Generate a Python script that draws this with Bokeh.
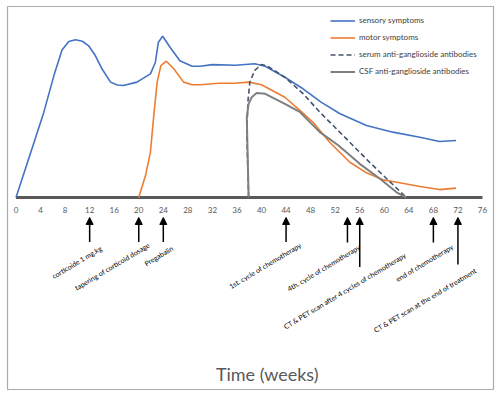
from bokeh.plotting import figure
from bokeh.models import Range1d, Arrow, NormalHead, ColumnDataSource, Label
from bokeh.core.properties import value
from bokeh.embed import file_html
from bokeh.resources import INLINE

# ---------------- data ----------------
ticks = [0, 4, 8, 12, 16, 20, 24, 28, 32, 36, 40, 44, 48, 52, 56, 60, 64, 68, 72, 76]

sensory_weeks = [0, 2.4, 4.5, 6.2, 7.5, 8.6, 9.7, 10.8, 11.8, 12.9, 14, 15.4, 16.5, 17.5, 19.7,
                 21.9, 22.7, 23.2, 23.9, 25.1, 26.7, 28.7, 30, 32, 35.7, 38.9, 40.6, 43.8,
                 46.5, 49.7, 52.8, 57.1, 61.4, 65.8, 69, 71.7]
sensory_values = [0, 25, 47, 68, 82, 86.7, 87.6, 86.8, 84.4, 79, 71.5, 64.1, 62.5, 62.2, 64.1,
                  68.7, 75, 86.3, 89.6, 83.5, 76, 72.9, 72.9, 73.8, 73.5, 74.3, 72.9, 66.8,
                  61, 53, 46.5, 40, 36.3, 33.5, 31.1, 31.7]

motor_weeks = [20, 21.1, 21.9, 22.5, 23, 23.6, 24.5, 25.7, 27.3, 28.7, 30, 33, 35.7, 37.9, 40,
               43.8, 46.3, 48.4, 51.1, 54.4, 57.1, 59.8, 62.5, 65.8, 69, 71.7]
motor_values = [0, 12.2, 25.2, 47.4, 64.1, 73.3, 75.7, 71.5, 64.1, 62.6, 62.6, 63.5, 63.5, 64.1, 62.6,
                55.7, 48.3, 41.8, 30.7, 19.6, 13.7, 9.8, 8.2, 6.1, 4.4, 5.2]

serum_weeks = [37.9, 37.6, 37.8, 38.1, 38.9, 40, 41, 43.8, 46.8, 49.5, 52.2, 54.9, 57.6, 60.4, 63.6]
serum_values = [0, 35.4, 53.9, 64.1, 70.6, 73.9, 73, 66.8, 57.6, 47.4, 38.2, 28.9, 19.6, 10.4, 0]

csf_weeks = [37.9, 37.6, 37.9, 38.4, 39.2, 40.6, 43.8, 46.3, 49.5, 52.5, 56, 59.3, 62, 63.6]
csf_values = [0, 44.6, 52, 55.7, 58, 57.6, 52, 47.4, 36.3, 29, 18.7, 10.4, 2.9, 0]

event_weeks = [12, 20, 24, 44, 54, 56, 68, 72]
event_labels = ["corticoide 1 mg.kg", "tapering of corticoid dosage", "Pregabalin",
                "1st. cycle of chemotherapy", "4th. cycle of chemotherapy",
                "CT & PET scan after 4 cycles of chemotherapy", "end of chemotherapy",
                "CT & PET scan at the end of treatment"]

# ---------------- layout (not data) ----------------
arrow_tip = [-11.1] * 8
arrow_tail = [-24.7, -24.7, -24.7, -24.7, -25, -38.6, -25, -37.2]
label_dx = [11.3, 10, 9, 14.4, 12, 46, 19, 18]      # screen px offsets of text end from arrow tail
label_dy = [5.5, 2.2, 5.5, 2.2, 3.8, -13, 3.3, 5]

W, H = 497, 395
ML, MR, MT, MB = 7, 4, 6, 6
FW, FH = W - ML - MR, H - MT - MB
k = 6.138
x0 = -(15.5 - ML) / k
p = figure(width=W, height=H, output_backend="svg", toolbar_location=None,
           x_range=Range1d(x0, x0 + FW / k),
           y_range=Range1d((197 - (MT + FH)) / 1.8, (197 - MT) / 1.8),
           min_border_left=ML, min_border_right=MR, min_border_top=MT, min_border_bottom=MB)
p.axis.visible = False
p.grid.visible = False
p.outline_line_color = "#ABABAB"
p.outline_line_width = 1.2
p.background_fill_color = "white"
p.border_fill_color = "white"

FONT = "Lato"

# axis line and tick labels
p.line(x=[ticks[0], ticks[-1]], y=[0, 0], line_color="#595959", line_width=3)
p.text(x=ticks, y=[0] * len(ticks), text=[str(t) for t in ticks], y_offset=12,
       text_align="center", text_baseline="middle", text_font=value(FONT),
       text_font_size="8px", text_color="#595959")

p.line(sensory_weeks, sensory_values, line_color="#4472C4", line_width=1.6, legend_label="sensory symptoms")
p.line(motor_weeks, motor_values, line_color="#ED7D31", line_width=1.6, legend_label="motor symptoms")
p.line(serum_weeks, serum_values, line_color="#44546A", line_width=1.6, line_dash="5 3",
       legend_label="serum anti-ganglioside antibodies")
p.line(csf_weeks, csf_values, line_color="#7F7F7F", line_width=2, legend_label="CSF anti-ganglioside antibodies")

# arrows
asrc = ColumnDataSource(dict(x=event_weeks, y0=arrow_tail, y1=arrow_tip))
p.add_layout(Arrow(x_start="x", y_start="y0", x_end="x", y_end="y1", source=asrc,
                   line_color="black", line_width=1.5,
                   end=NormalHead(size=7, fill_color="black", line_color="black")))

# event labels
tsrc = ColumnDataSource(dict(x=event_weeks, y=arrow_tail, t=event_labels, dx=label_dx, dy=label_dy))
p.text(x="x", y="y", text="t", x_offset="dx", y_offset="dy", source=tsrc, angle=0.54,
       text_align="right", text_baseline="alphabetic", text_font=value(FONT),
       text_font_size="7px", text_color="black")

p.add_layout(Label(x=(266.7 - 15.5) / k, y=(197 - 373) / 1.8, text="Time (weeks)",
                   text_align="center", text_baseline="middle", text_font=FONT,
                   text_font_size="18px", text_color="#595959"))

lg = p.legend[0]
lg.location = (330 - ML, (MT + FH) - 79.5)
lg.glyph_width = 25
lg.glyph_height = 17
lg.label_height = 17
lg.spacing = 0
lg.padding = 0
lg.margin = 0
lg.label_standoff = 4
lg.border_line_color = None
lg.background_fill_alpha = 0
lg.label_text_font = FONT
lg.label_text_font_size = "8px"
lg.label_text_color = "#404040"

open("out.html", "w").write(file_html(p, INLINE))
